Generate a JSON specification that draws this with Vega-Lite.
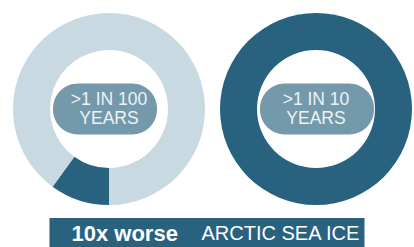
{
  "$schema": "https://vega.github.io/schema/vega-lite/v6.json",
  "padding": 0,
  "spacing": 0,
  "bounds": "flush",
  "center": true,
  "background": "white",
  "config": {"view": {"stroke": null}},
  "resolve": {"scale": {"x": "independent", "y": "independent", "color": "independent"}},
  "datasets": {
    "rings": [
      {"event": "1 in 100", "metric": "frequency", "seg": 1, "kind": "usual", "share": 5},
      {"event": "1 in 100", "metric": "frequency", "seg": 2, "kind": "extreme", "share": 1},
      {"event": "1 in 100", "metric": "frequency", "seg": 3, "kind": "usual", "share": 4},
      {"event": "1 in 10", "metric": "frequency", "seg": 1, "kind": "extreme", "share": 10}
    ],
    "labels": [
      {"event": "1 in 100", "metric": "frequency", "label": ">1 IN 100\nYEARS"},
      {"event": "1 in 10", "metric": "frequency", "label": ">1 IN 10\nYEARS"}
    ],
    "banner": [
      {"part": "headline", "text": "10x worse"},
      {"part": "subject", "text": "ARCTIC SEA ICE"}
    ]
  },
  "vconcat": [
    {
      "width": 414,
      "height": 218,
      "encoding": {
        "x": {"field": "event", "type": "nominal", "scale": {"type": "point", "domain": ["1 in 100", "1 in 10"], "range": [109, 316], "padding": 0}, "axis": null},
        "y": {"field": "metric", "type": "nominal", "scale": {"type": "point", "domain": ["frequency"]}, "axis": null}
      },
      "layer": [
        {
          "data": {"name": "rings"},
          "transform": [
            {"stack": "share", "groupby": ["event"], "sort": [{"field": "seg", "order": "ascending"}], "as": ["a0", "a1"]}
          ],
          "mark": {"type": "arc", "innerRadius": 59, "outerRadius": 96},
          "encoding": {
            "theta": {"field": "a0", "type": "quantitative", "scale": {"domain": [0, 10]}},
            "theta2": {"field": "a1"},
            "color": {"field": "kind", "type": "nominal", "scale": {"domain": ["usual", "extreme"], "range": ["#c9d9e1", "#28627f"]}, "legend": null}
          }
        },
        {
          "data": {"name": "labels"},
          "transform": [{"filter": "datum.event === '1 in 100'"}],
          "mark": {"type": "rect", "width": 104, "height": 51, "cornerRadius": 25, "color": "#7399ab", "xOffset": -4}
        },
        {
          "data": {"name": "labels"},
          "transform": [{"filter": "datum.event === '1 in 10'"}],
          "mark": {"type": "rect", "width": 114, "height": 51, "cornerRadius": 25, "color": "#7399ab", "xOffset": 1}
        },
        {
          "data": {"name": "labels"},
          "mark": {"type": "text", "lineBreak": "\n", "font": "Liberation Sans", "fontSize": 17.5, "lineHeight": 19, "color": "#eef3f5", "baseline": "middle", "align": "center", "dy": -9.5},
          "encoding": {
            "text": {"field": "label", "type": "nominal"}
          }
        }
      ]
    },
    {
      "width": 315,
      "height": 29,
      "view": {"fill": "#28627f", "stroke": null},
      "data": {"name": "banner"},
      "encoding": {
        "x": {"field": "part", "type": "nominal", "scale": {"type": "point", "domain": ["headline", "subject"], "range": [22, 152], "padding": 0}, "axis": null},
        "text": {"field": "text", "type": "nominal"}
      },
      "layer": [
        {
          "transform": [{"filter": "datum.part === 'headline'"}],
          "mark": {"type": "text", "font": "Liberation Sans", "fontWeight": "bold", "fontSize": 22, "color": "white", "align": "left", "baseline": "middle", "dy": 1}
        },
        {
          "transform": [{"filter": "datum.part === 'subject'"}],
          "mark": {"type": "text", "font": "Liberation Sans", "fontSize": 20, "color": "white", "align": "left", "baseline": "middle", "dy": 1}
        }
      ]
    }
  ]
}
